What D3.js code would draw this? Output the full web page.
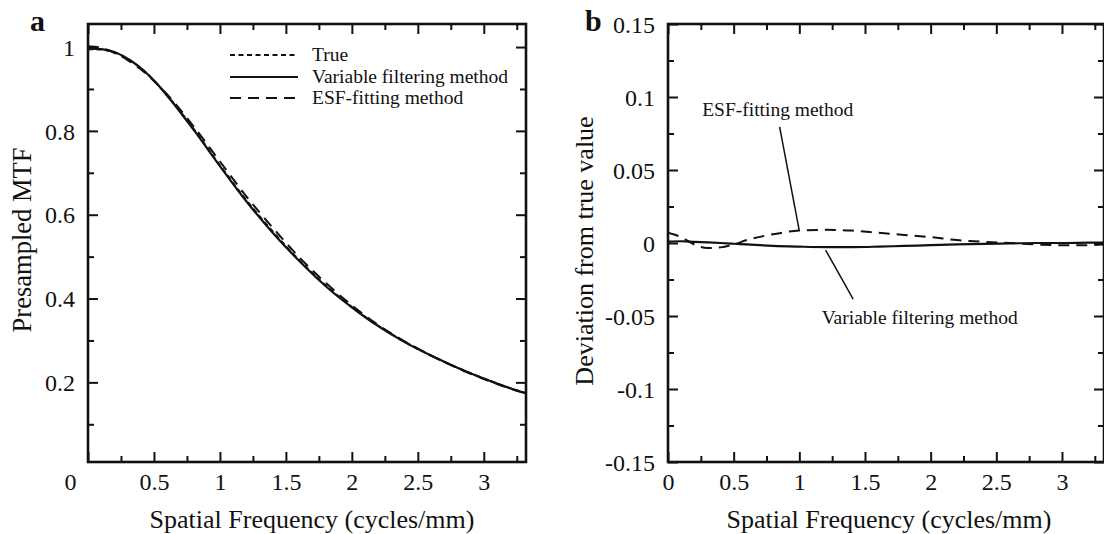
<!DOCTYPE html>
<html>
<head>
<meta charset="utf-8">
<script src="https://cdn.jsdelivr.net/npm/d3@7"></script>
<style>
  html, body { margin: 0; padding: 0; background: #fff; }
  svg text { font-family: "Liberation Serif", "Times New Roman", serif; fill: #111; }
</style>
</head>
<body>
<script>
// ---------------- data ----------------
const freq = [0, 0.1, 0.2, 0.3, 0.4, 0.5, 0.6, 0.8, 1.0, 1.2, 1.4, 1.6, 1.8, 2.0, 2.2, 2.4, 2.6, 2.8, 3.0, 3.2, 3.32];
const mtfTrue     = [0.995, 0.994, 0.987, 0.972, 0.950, 0.920, 0.885, 0.805, 0.718, 0.635, 0.560, 0.492, 0.432, 0.380, 0.335, 0.297, 0.264, 0.235, 0.209, 0.186, 0.174];
const mtfVariable = [0.996, 0.995, 0.988, 0.972, 0.950, 0.920, 0.884, 0.803, 0.716, 0.632, 0.557, 0.490, 0.430, 0.379, 0.334, 0.296, 0.264, 0.235, 0.209, 0.186, 0.174];
const mtfESF      = [1.002, 0.998, 0.986, 0.969, 0.947, 0.919, 0.887, 0.811, 0.727, 0.644, 0.569, 0.499, 0.438, 0.384, 0.337, 0.298, 0.264, 0.234, 0.208, 0.185, 0.173];
const devVariable = [0.001, 0.0012, 0.0008, 0.0004, 0, -0.0005, -0.001, -0.002, -0.0025, -0.0028, -0.0028, -0.0025, -0.002, -0.0015, -0.001, -0.0006, -0.0003, 0, 0, 0.0002, 0.0003];
const devESF      = [0.007, 0.004, -0.001, -0.0035, -0.003, -0.001, 0.002, 0.006, 0.0085, 0.009, 0.0085, 0.007, 0.0055, 0.004, 0.002, 0.0008, 0, -0.001, -0.0015, -0.0015, -0.001];

const xMajor = [0, 0.5, 1, 1.5, 2, 2.5, 3];
const xMinor = [0.25, 0.75, 1.25, 1.75, 2.25, 2.75, 3.25];
const yMajorA = [0.2, 0.4, 0.6, 0.8, 1];
const yMinorA = [0.1, 0.3, 0.5, 0.7, 0.9];
const yMajorB = [-0.15, -0.1, -0.05, 0, 0.05, 0.1, 0.15];
const yMinorB = [-0.125, -0.075, -0.025, 0.025, 0.075, 0.125];
const legendNames = ["True", "Variable filtering method", "ESF-fitting method"];
const xTitle = "Spatial Frequency (cycles/mm)";

// ---------------- setup ----------------
const W = 1104, H = 534;
const FONT = '"Liberation Serif", "Times New Roman", serif';
const svg = d3.select("body").append("svg").attr("width", W).attr("height", H)
  .attr("font-family", FONT);

const dashTrue = "5,3.5";
const dashESF = "11,7";

function fmtTick(v) {
  return String(+v.toFixed(3)).replace("\u2212", "-");
}

function drawPanel(cfg) {
  const { x, y, yMajor, yMinor, id } = cfg;
  const g = svg.append("g");
  const [x0, x1] = x.range();
  const [y0, y1] = y.range(); // y0 bottom, y1 top

  g.append("clipPath").attr("id", "clip" + id)
    .append("rect").attr("x", x0).attr("y", y1).attr("width", x1 - x0).attr("height", y0 - y1);

  const axes = [
    { a: d3.axisBottom(x), t: `translate(0,${y0})`, maj: xMajor, min: xMinor, labels: true },
    { a: d3.axisTop(x), t: `translate(0,${y1})`, maj: xMajor, min: xMinor, labels: false },
    { a: d3.axisLeft(y), t: `translate(${x0},0)`, maj: yMajor, min: yMinor, labels: true },
    { a: d3.axisRight(y), t: `translate(${x1},0)`, maj: yMajor, min: yMinor, labels: false }
  ];
  const axG = [];
  axes.forEach((d, i) => {
    const gm = g.append("g").attr("transform", d.t)
      .call(d.a.tickValues(d.maj).tickSize(-10).tickPadding(11)
        .tickFormat(d.labels ? fmtTick : ""));
    gm.attr("font-family", FONT).attr("font-size", 24);
    gm.select(".domain").remove();
    gm.selectAll("line").attr("stroke", "#111").attr("stroke-width", 2);
    gm.selectAll("text").attr("fill", "#111").style("font-family", FONT).style("font-size", "24px");
    axG.push(gm);
    const gn = g.append("g").attr("transform", d.t)
      .call(d.a.tickValues(d.min).tickSize(-6).tickFormat(""));
    gn.select(".domain").remove();
    gn.selectAll("line").attr("stroke", "#111").attr("stroke-width", 2);
  });
  // frame
  g.append("rect").attr("x", x0).attr("y", y1).attr("width", x1 - x0).attr("height", y0 - y1)
    .attr("fill", "none").attr("stroke", "#111").attr("stroke-width", 2.6);
  return { g, axG };
}

// ---------------- panel a ----------------
const xA = d3.scaleLinear().domain([0, 3.32]).range([88, 526]);
const yA = d3.scaleLinear().domain([0.01, 1.055]).range([462, 24]);
const pA = drawPanel({ x: xA, y: yA, yMajor: yMajorA, yMinor: yMinorA, id: "A" });
// shift the "0" x label left like the original
pA.axG[0].selectAll(".tick text").filter(d => d === 0).attr("dx", -18);
pA.axG[2].selectAll(".tick text").attr("x", -13).attr("dy", "0.34em");

const lineA = d3.line().x((d, i) => xA(freq[i])).y(d => yA(d)).curve(d3.curveMonotoneX);
const seriesA = [
  { v: mtfTrue, dash: dashTrue, w: 2 },
  { v: mtfVariable, dash: null, w: 2.2 },
  { v: mtfESF, dash: dashESF, w: 2 }
];
const curvesA = pA.g.append("g").attr("clip-path", "url(#clipA)");
seriesA.forEach(s => {
  curvesA.append("path").datum(s.v).attr("d", lineA)
    .attr("fill", "none").attr("stroke", "#111").attr("stroke-width", s.w)
    .attr("stroke-dasharray", s.dash);
});

// legend
const legY = [55, 77, 98];
legendNames.forEach((name, i) => {
  pA.g.append("line").attr("x1", 230).attr("x2", 298).attr("y1", legY[i]).attr("y2", legY[i])
    .attr("stroke", "#111").attr("stroke-width", 2.2).attr("stroke-dasharray", seriesA[i].dash);
  pA.g.append("text").attr("x", 312).attr("y", legY[i] + 6).attr("font-size", 19.5).text(name);
});

pA.g.append("text").attr("transform", "translate(31,240) rotate(-90)")
  .attr("text-anchor", "middle").attr("font-size", 26.5).text("Presampled MTF");
pA.g.append("text").attr("x", 312).attr("y", 528)
  .attr("text-anchor", "middle").attr("font-size", 26).text(xTitle);
pA.g.append("text").attr("x", 30).attr("y", 31).attr("font-size", 30).attr("font-weight", "bold").text("a");

// ---------------- panel b ----------------
const xB = d3.scaleLinear().domain([0, 3.32]).range([668, 1104]);
const yB = d3.scaleLinear().domain([-0.15, 0.15]).range([462, 24]);
const pB = drawPanel({ x: xB, y: yB, yMajor: yMajorB, yMinor: yMinorB, id: "B" });
pB.axG[2].selectAll(".tick text").attr("x", -13).attr("dy", "0.34em");

const lineB = d3.line().x((d, i) => xB(freq[i])).y(d => yB(d)).curve(d3.curveMonotoneX);
const curvesB = pB.g.append("g").attr("clip-path", "url(#clipB)");
curvesB.append("path").datum(devVariable).attr("d", lineB)
  .attr("fill", "none").attr("stroke", "#111").attr("stroke-width", 2.2);
curvesB.append("path").datum(devESF).attr("d", lineB)
  .attr("fill", "none").attr("stroke", "#111").attr("stroke-width", 2).attr("stroke-dasharray", dashESF);

// annotations
pB.g.append("text").attr("x", xB(0.26)).attr("y", yB(0.087)).attr("font-size", 19.5).text("ESF-fitting method");
pB.g.append("line").attr("x1", xB(0.85)).attr("y1", yB(0.0795)).attr("x2", xB(1.0)).attr("y2", yB(0.0083))
  .attr("stroke", "#111").attr("stroke-width", 1.5);
pB.g.append("text").attr("x", xB(1.17)).attr("y", yB(-0.0555)).attr("font-size", 19.5).text("Variable filtering method");
pB.g.append("line").attr("x1", xB(1.2)).attr("y1", yB(-0.0048)).attr("x2", xB(1.41)).attr("y2", yB(-0.0384))
  .attr("stroke", "#111").attr("stroke-width", 1.5);

pB.g.append("text").attr("transform", "translate(593,251) rotate(-90)")
  .attr("text-anchor", "middle").attr("font-size", 26).text("Deviation from true value");
pB.g.append("text").attr("x", 889).attr("y", 528)
  .attr("text-anchor", "middle").attr("font-size", 26).text(xTitle);
pB.g.append("text").attr("x", 585).attr("y", 31).attr("font-size", 30).attr("font-weight", "bold").text("b");

svg.selectAll("text").style("font-family", FONT);
</script>
</body>
</html>
